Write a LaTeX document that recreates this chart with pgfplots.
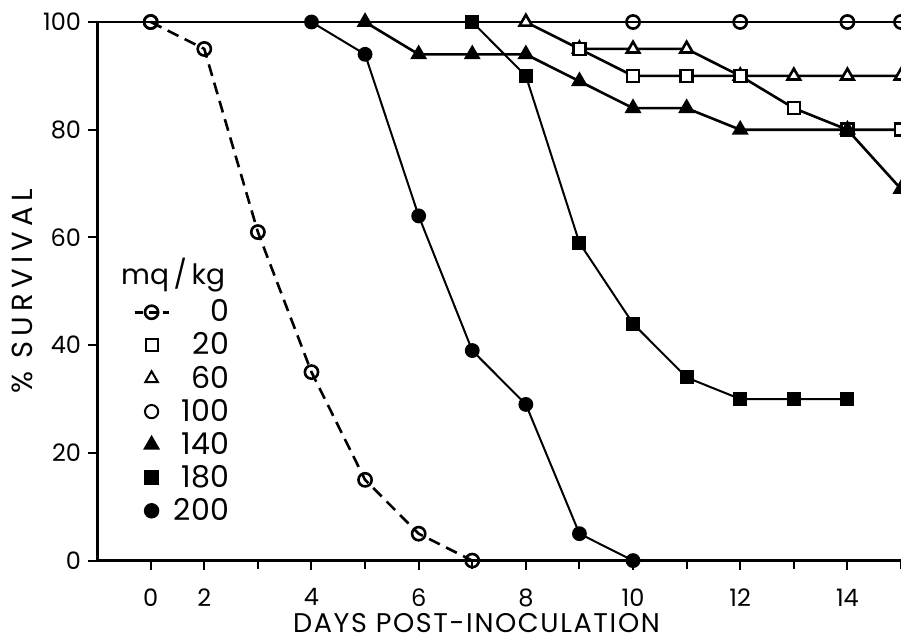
\documentclass[border=0pt]{standalone}
\usepackage{pgfplots}
\usepackage{pgfplotstable}
\usepackage{fontspec}
\setmainfont{Poppins}
\pgfplotsset{compat=1.18}

% survival (%) against day post-inoculation, one table per dose in mg/kg
\pgfplotstableread{
d s
0 100
2 95
3 61
4 35
5 15
6 5
7 0
}\dzero
\pgfplotstableread{
d s
9 95
10 90
11 90
12 90
13 84
14 80
15 80
}\dtwenty
\pgfplotstableread{
d s
8 100
9 95
10 95
11 95
12 90
13 90
14 90
15 90
}\dsixty
\pgfplotstableread{
d s
0 100
10 100
12 100
14 100
15 100
}\dhundred
\pgfplotstableread{
d s
5 100
6 94
7 94
8 94
9 89
10 84
11 84
12 80
14 80
15 69
}\donefourty
\pgfplotstableread{
d s
7 100
8 90
9 59
10 44
11 34
12 30
13 30
14 30
}\doneeighty
\pgfplotstableread{
d s
4 100
5 94
6 64
7 39
8 29
9 5
10 0
}\dtwohundred

% the day axis skips day 1: day 0 and day 2 are one tick apart
\newcommand{\brk}{\thisrow{d}<1 ? \thisrow{d} : \thisrow{d}-1}

\begin{document}
\begin{tikzpicture}
\useasboundingbox (-48.5pt,-40pt) rectangle (401.5pt,280pt);
\begin{axis}[
  scale only axis, width=401.5pt, height=269pt,
  xmin=-1, xmax=14, ymin=0, ymax=100,
  axis x line=bottom, axis y line=left,
  axis line style={-, line width=1.4pt},
  clip=false,
  xtick={0,1,3,5,7,9,11,13},
  xticklabels={0,2,4,6,8,10,12,14},
  minor xtick={2,4,6,8,10,12,14},
  ytick={0,20,40,60,80,100},
  tick align=outside,
  major tick length=4.5pt, minor tick length=4pt,
  tick style={line width=1pt, black},
  /pgf/number format/assume math mode=true,
  tick label style={font=\fontsize{12}{14}\selectfont},
  xticklabel style={yshift=-6pt},
  xlabel={DAYS POST-INOCULATION},
  ylabel={\% SURVIVAL},
  xlabel style={font=\fontsize{13.5}{15}\selectfont\addfontfeatures{LetterSpace=6},
    inner sep=0pt, at={(axis description cs:0.472,-0.1152)}, anchor=center},
  ylabel style={font=\fontsize{14.5}{16}\selectfont\addfontfeatures{LetterSpace=18},
    at={(axis description cs:-0.0934,0.5)}, anchor=center},
  legend style={draw=none, fill=none, font=\fontsize{15}{16}\selectfont,
    at={(axis description cs:0.177,0.50)}, anchor=north east, row sep=0pt,
    nodes={inner ysep=2pt}},
  legend cell align=right,
  every axis plot/.append style={black, line width=1.3pt},
]
\addplot[mark=o, mark size=3.3pt, mark options={solid, fill=white}, forget plot]
  table[x expr=\brk, y=s] {\dhundred};
\addplot[no marks, forget plot] coordinates {(-1,100) (0,100)};
\addplot[mark=triangle*, mark size=3.6pt, mark options={solid, fill=white}, forget plot]
  table[x expr=\brk, y=s] {\dsixty};
\addplot[mark=square*, mark size=3pt, mark options={solid, fill=white}, forget plot]
  table[x expr=\brk, y=s] {\dtwenty};
\addplot[mark=triangle*, mark size=3.6pt, forget plot]
  table[x expr=\brk, y=s] {\donefourty};
\addplot[mark=square*, mark size=3pt, line width=1pt, forget plot]
  table[x expr=\brk, y=s] {\doneeighty};
\addplot[mark=*, mark size=3.2pt, line width=1pt, forget plot]
  table[x expr=\brk, y=s] {\dtwohundred};
\addplot[dash pattern=on 6pt off 3.5pt, mark=o, mark size=3.3pt,
  mark options={solid, fill=white}, forget plot]
  table[x expr=\brk, y=s] {\dzero};

\addlegendimage{black, line width=1.3pt, dash pattern=on 4pt off 3pt, mark=o, mark size=3.3pt, mark options={solid, fill=white}}
\addlegendentry{0}
\addlegendimage{only marks, black, line width=1pt, mark=square, mark size=3pt}
\addlegendentry{20}
\addlegendimage{only marks, black, line width=1pt, mark=triangle, mark size=3.6pt}
\addlegendentry{60}
\addlegendimage{only marks, black, line width=1pt, mark=o, mark size=3.3pt}
\addlegendentry{100}
\addlegendimage{only marks, black, mark=triangle*, mark size=3.6pt}
\addlegendentry{140}
\addlegendimage{only marks, black, mark=square*, mark size=3pt}
\addlegendentry{180}
\addlegendimage{only marks, black, mark=*, mark size=3.2pt}
\addlegendentry{200}

\node[font=\fontsize{14}{16}\selectfont] at (axis description cs:0.0946,0.530) {mq\,/\,kg};
\end{axis}
\end{tikzpicture}
\end{document}
